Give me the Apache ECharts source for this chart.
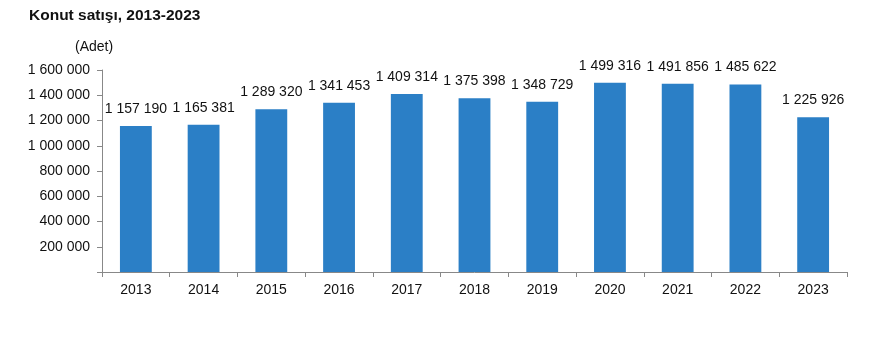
<!DOCTYPE html>
<html><head><meta charset="utf-8">
<script src="https://cdn.jsdelivr.net/npm/echarts@6/dist/echarts.min.js"></script>
<style>html,body{margin:0;padding:0;background:#fff}#c{width:880px;height:357px}</style>
</head><body><div id="c"></div>
<script>
const years = ['2013','2014','2015','2016','2017','2018','2019','2020','2021','2022','2023'];
const sales = [1157190,1165381,1289320,1341453,1409314,1375398,1348729,1499316,1491856,1485622,1225926];
const yTicks = [0,200000,400000,600000,800000,1000000,1200000,1400000,1600000];

function fmt(v){ return String(v).replace(/\B(?=(\d{3})+(?!\d))/g,' '); }

const chart = echarts.init(document.getElementById('c'));
chart.setOption({
  animation:false,
  textStyle:{fontFamily:'Liberation Sans, Arial, sans-serif'},
  title:{text:'Konut satışı, 2013-2023',left:24,top:3,textStyle:{fontSize:15.5,fontWeight:'bold',color:'#111',fontFamily:'Liberation Sans, Arial, sans-serif'}},
  graphic:[{type:'text',left:75,top:40,style:{text:'(Adet)',fontSize:14,fill:'#111',fontFamily:'Liberation Sans, Arial, sans-serif'}}],
  grid:{left:102,right:33,top:70,bottom:85,containLabel:false},
  xAxis:{type:'category',data:years,
    axisLine:{lineStyle:{color:'#888'}},
    axisTick:{show:true,alignWithLabel:false,length:5,lineStyle:{color:'#888'}},
    axisLabel:{fontSize:14,color:'#111',margin:11}},
  yAxis:{type:'value',min:yTicks[0],max:yTicks[yTicks.length-1],interval:yTicks[1]-yTicks[0],
    splitLine:{show:false},
    axisLine:{show:true,lineStyle:{color:'#888'}},
    axisTick:{show:true,length:5,lineStyle:{color:'#888'}},
    axisLabel:{fontSize:14,color:'#111',margin:12,formatter:v=>v===0?'':fmt(v)}},
  series:[{type:'bar',data:sales,barWidth:'47%',
    itemStyle:{color:'#2b7fc6'},
    label:{show:true,position:'top',distance:10,fontSize:14,color:'#111',formatter:p=>fmt(p.value)}}]
});
</script></body></html>
